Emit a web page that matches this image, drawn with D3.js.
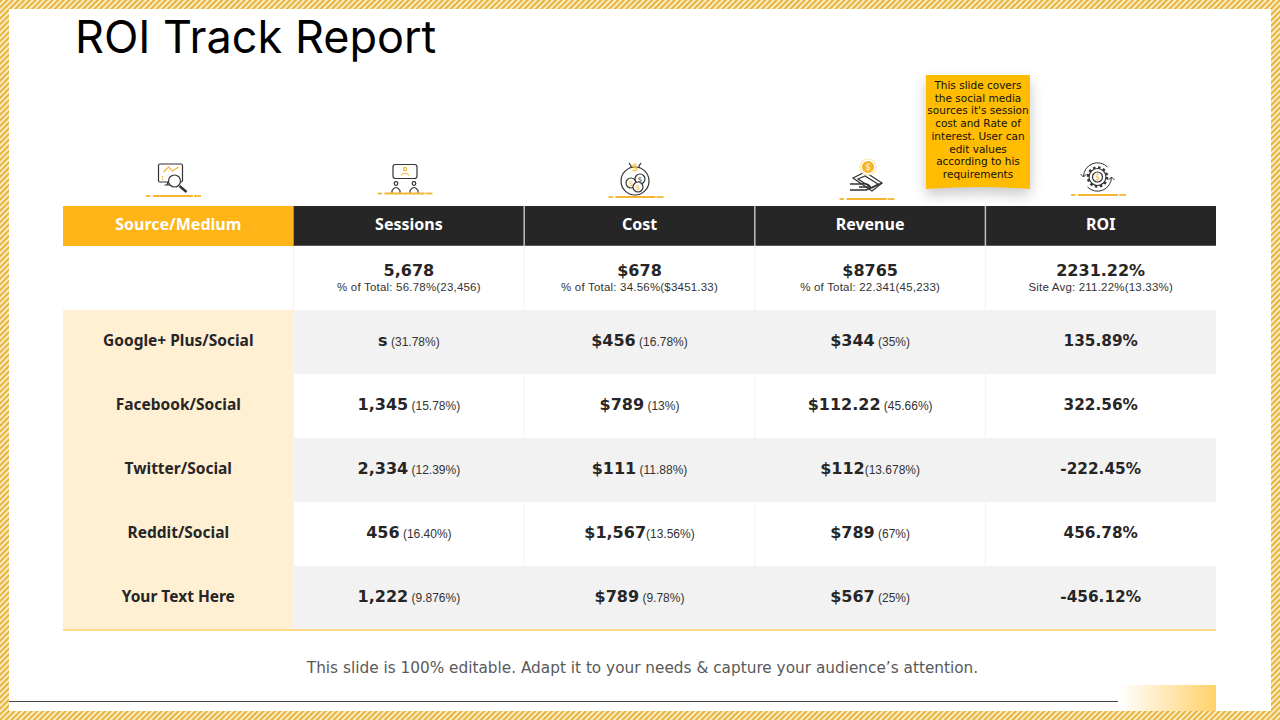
<!DOCTYPE html>
<html>
<head>
<meta charset="utf-8">
<title>ROI Track Report</title>
<script src="https://cdn.jsdelivr.net/npm/d3@7"></script>
<style>
  html, body { margin: 0; padding: 0; background: #fff; }
  svg { display: block; }
  svg text { white-space: pre; }
</style>
</head>
<body>
<div id="view"></div>
<script>
var columns = ['Source/Medium', 'Sessions', 'Cost', 'Revenue', 'ROI'];
var rows = ['summary', 'Google+ Plus/Social', 'Facebook/Social', 'Twitter/Social', 'Reddit/Social', 'Your Text Here'];

var summary_values = ['5,678', '$678', '$8765', '2231.22%'];
var summary_notes = ['% of Total: 56.78%(23,456)', '% of Total: 34.56%($3451.33)', '% of Total: 22.341(45,233)', 'Site Avg: 211.22%(13.33%)'];

var sessions = ['s', '1,345', '2,334', '456', '1,222'];
var sessions_pct = [' (31.78%)', ' (15.78%)', ' (12.39%)', ' (16.40%)', ' (9.876%)'];
var cost = ['$456', '$789', '$111', '$1,567', '$789'];
var cost_pct = [' (16.78%)', ' (13%)', ' (11.88%)', '(13.56%)', ' (9.78%)'];
var revenue = ['$344', '$112.22', '$112', '$789', '$567'];
var revenue_pct = [' (35%)', ' (45.66%)', '(13.678%)', ' (67%)', ' (25%)'];
var roi = ['135.89%', '322.56%', '-222.45%', '456.78%', '-456.12%'];

var note_lines = ['This slide covers', 'the social media', "sources it's session", 'cost and Rate of', 'interest. User can', 'edit values', 'according to his', 'requirements'];

var WIDE = "'DejaVu Sans', Verdana, sans-serif";
var HEAD = "'Noto Sans', 'Open Sans', sans-serif";
var SMALL = "'Liberation Sans', Arial, sans-serif";
var YELLOW = '#FFB417';
var INK = '#262626';

var svg = d3.select('#view').append('svg').attr('width', 1280).attr('height', 720);
var defs = svg.append('defs');

// hatched border
var hatch = defs.append('pattern').attr('id', 'hatch').attr('width', 4).attr('height', 4)
  .attr('patternUnits', 'userSpaceOnUse').attr('patternTransform', 'rotate(-45)');
hatch.append('rect').attr('width', 4).attr('height', 4).attr('fill', '#FFF8E6');
hatch.append('rect').attr('width', 4).attr('height', 2.4).attr('fill', '#E8B53C');

var fade = defs.append('linearGradient').attr('id', 'fade');
fade.append('stop').attr('offset', '0%').attr('stop-color', '#FFD169').attr('stop-opacity', 0);
fade.append('stop').attr('offset', '100%').attr('stop-color', '#FFD169');

var blur = defs.append('filter').attr('id', 'shadow').attr('x', '-30%').attr('y', '-30%').attr('width', '160%').attr('height', '160%');
blur.append('feGaussianBlur').attr('stdDeviation', 7);

svg.append('path').attr('fill', 'url(#hatch)').attr('fill-rule', 'evenodd')
  .attr('d', 'M0,0H1280V720H0Z M9,9V711H1271V9Z');

svg.append('text').attr('x', 75).attr('y', 53).attr('font-family', "'Inter', 'Noto Sans', sans-serif")
  .attr('font-size', 45).attr('fill', '#000').text('ROI Track Report');

// scales for the table
var x = d3.scaleBand().domain(columns).range([63, 1216]);
var y = d3.scaleBand().domain(rows).range([246, 630]);
var cx = function(c) { return x(c) + x.bandwidth() / 2; };
var data_cols = columns.slice(1);

// header
svg.selectAll('rect.head').data(columns).enter().append('rect').classed('head', true)
  .attr('x', function(c) { return x(c); }).attr('y', 206)
  .attr('width', x.bandwidth()).attr('height', 40)
  .attr('fill', function(c, i) { return i == 0 ? YELLOW : INK; });
svg.append('line').attr('x1', x(data_cols[0])).attr('x2', 1216).attr('y1', 245.5).attr('y2', 245.5).attr('stroke', '#595959');
svg.selectAll('line.headsep').data(data_cols.slice(1)).enter().append('line').classed('headsep', true)
  .attr('x1', function(c) { return x(c); }).attr('x2', function(c) { return x(c); })
  .attr('y1', 206).attr('y2', 246).attr('stroke', '#BFBFBF').attr('stroke-width', 1.5);
svg.selectAll('text.head').data(columns).enter().append('text').classed('head', true)
  .attr('x', cx).attr('y', 230).attr('text-anchor', 'middle')
  .attr('font-family', HEAD).attr('font-weight', 700).attr('font-size', 16).attr('fill', '#fff')
  .text(function(c) { return c; });

// body backgrounds
var body_rows = rows.slice(1);
svg.selectAll('rect.label').data(body_rows).enter().append('rect').classed('label', true)
  .attr('x', x(columns[0])).attr('y', y).attr('width', x.bandwidth()).attr('height', y.bandwidth())
  .attr('fill', '#FFF0D4');
svg.selectAll('rect.band').data(body_rows).enter().append('rect').classed('band', true)
  .attr('x', x(data_cols[0])).attr('y', y)
  .attr('width', x.bandwidth() * data_cols.length).attr('height', y.bandwidth())
  .attr('fill', function(r, i) { return i % 2 == 0 ? '#F2F2F2' : '#fff'; });

// faint cell separators on the white rows
var white_rows = ['summary', body_rows[1], body_rows[3]];
white_rows.forEach(function(r) {
  svg.selectAll(null).data(data_cols).enter().append('line')
    .attr('x1', function(c) { return x(c); }).attr('x2', function(c) { return x(c); })
    .attr('y1', y(r)).attr('y2', y(r) + y.bandwidth()).attr('stroke', '#F2F2F2');
});

svg.append('line').attr('x1', 63).attr('x2', 1216).attr('y1', 630).attr('y2', 630)
  .attr('stroke', '#FFD98A').attr('stroke-width', 2);

// row labels
svg.selectAll('text.label').data(body_rows).enter().append('text').classed('label', true)
  .attr('x', cx(columns[0])).attr('y', function(r) { return y(r) + 36; }).attr('text-anchor', 'middle')
  .attr('font-family', HEAD).attr('font-weight', 700).attr('font-size', 15.5).attr('fill', INK)
  .text(function(r) { return r; });

// summary row
svg.selectAll('text.sumval').data(summary_values).enter().append('text').classed('sumval', true)
  .attr('x', function(d, i) { return cx(data_cols[i]); }).attr('y', 276).attr('text-anchor', 'middle')
  .attr('font-family', WIDE).attr('font-weight', 700).attr('font-size', 16).attr('fill', INK)
  .text(function(d) { return d; });
svg.selectAll('text.sumnote').data(summary_notes).enter().append('text').classed('sumnote', true)
  .attr('x', function(d, i) { return cx(data_cols[i]); }).attr('y', 291).attr('text-anchor', 'middle')
  .attr('font-family', SMALL).attr('font-size', 11.5).attr('letter-spacing', 0.2).attr('fill', '#333')
  .text(function(d) { return d; });

// body cells
var col_values = [sessions, cost, revenue, roi];
var col_notes = [sessions_pct, cost_pct, revenue_pct, null];
col_values.forEach(function(vals, k) {
  var cell = svg.selectAll(null).data(vals).enter().append('text')
    .attr('x', cx(data_cols[k]))
    .attr('y', function(d, i) { return y(body_rows[i]) + 36; })
    .attr('text-anchor', 'middle');
  cell.append('tspan').attr('font-family', WIDE).attr('font-weight', 700)
    .attr('font-size', col_notes[k] ? 16 : 15.3).attr('fill', INK)
    .text(function(d) { return d; });
  if (col_notes[k]) {
    cell.append('tspan').attr('font-family', SMALL)
      .attr('font-size', 12).attr('fill', '#333')
      .text(function(d, i) { return col_notes[k][i]; });
  }
});

svg.append('text').attr('x', 642.5).attr('y', 673).attr('text-anchor', 'middle')
  .attr('font-family', WIDE).attr('font-size', 15.3).attr('fill', '#595959')
  .text('This slide is 100% editable. Adapt it to your needs & capture your audience\u2019s attention.');

svg.append('line').attr('x1', 9).attr('x2', 1118).attr('y1', 701.5).attr('y2', 701.5).attr('stroke', '#444');
svg.append('rect').attr('x', 1120).attr('y', 685).attr('width', 96).attr('height', 26).attr('fill', 'url(#fade)');

// sticky note
var note_path = 'M926,75H1030V189Q978,185 926,189Z';
svg.append('path').attr('d', note_path).attr('transform', 'translate(0,6)').attr('fill', '#000')
  .attr('opacity', 0.22).attr('filter', 'url(#shadow)');
svg.append('path').attr('d', note_path).attr('fill', '#FFBC00');
svg.selectAll('text.note').data(note_lines).enter().append('text').classed('note', true)
  .attr('x', 978).attr('y', function(d, i) { return 89 + i * 12.7; }).attr('text-anchor', 'middle')
  .attr('font-family', WIDE).attr('font-size', 10.5).attr('fill', '#111')
  .text(function(d) { return d; });

// icons above the header
var DARK = '#333', GOLD = '#F5B52E';
function icon(cxi, base) {
  var g = svg.append('g').attr('transform', 'translate(' + cxi + ',' + base + ')')
    .attr('fill', 'none').attr('stroke', DARK).attr('stroke-width', 1.2);
  [[-27.5, -23], [-20.5, 19.5], [20.5, 27.5]].forEach(function(s) {
    g.append('line').attr('x1', s[0]).attr('x2', s[1]).attr('y1', 0).attr('y2', 0)
      .attr('stroke', GOLD).attr('stroke-width', 1.8);
  });
  return g;
}

var a = icon(173.5, 196);
a.append('rect').attr('x', -15).attr('y', -32).attr('width', 24).attr('height', 18).attr('rx', 1.5);
a.append('path').attr('d', 'M-10,-24L-5,-29L-1,-25L5,-29').attr('stroke', GOLD);
a.append('path').attr('d', 'M-11,-20V-16').attr('stroke', GOLD).attr('stroke-dasharray', '1.5 1');
a.append('path').attr('d', 'M-6,-14V-11M-9,-11H-1');
a.append('circle').attr('cx', 1).attr('cy', -15).attr('r', 6).attr('fill', '#fff');
a.append('path').attr('d', 'M6,-10L13,-4').attr('stroke-width', 2.4);

var b = icon(405, 193.5);
b.append('rect').attr('x', -12).attr('y', -29).attr('width', 24).attr('height', 14).attr('rx', 2.5);
b.append('circle').attr('cx', 0).attr('cy', -24.5).attr('r', 1.6).attr('stroke', GOLD);
b.append('path').attr('d', 'M-4,-18Q0,-23 4,-18').attr('stroke', GOLD);
[-9, 9].forEach(function(s) {
  b.append('circle').attr('cx', s).attr('cy', -10).attr('r', 1.8);
  b.append('path').attr('d', 'M' + (s - 4) + ',-1V-3Q' + s + ',-9 ' + (s + 4) + ',-3V-1');
});

var c = icon(636, 197);
c.append('circle').attr('cx', -1).attr('cy', -16).attr('r', 14);
c.append('path').attr('d', 'M-7,-34L-5,-31V-29M5,-34L3,-31V-29');
c.append('text').attr('x', -1).attr('y', -26).attr('text-anchor', 'middle').attr('font-size', 11).attr('stroke', 'none').attr('fill', GOLD).attr('font-family', WIDE).text('$');
c.append('circle').attr('cx', 4).attr('cy', -18).attr('r', 5).attr('fill', '#fff');
c.append('circle').attr('cx', -5).attr('cy', -14).attr('r', 5).attr('fill', '#fff');
c.append('circle').attr('cx', 2).attr('cy', -10).attr('r', 5).attr('fill', '#fff');
[[4, -15.5, DARK], [-5, -11.5, GOLD], [2, -7.5, GOLD]].forEach(function(s) {
  c.append('text').attr('x', s[0]).attr('y', s[1]).attr('text-anchor', 'middle').attr('font-size', 7)
    .attr('stroke', 'none').attr('fill', s[2]).attr('font-family', WIDE).text('$');
});

var r_ = icon(867, 199);
r_.append('path').attr('d', 'M-14,-21L-2,-27L15,-16L5,-8Z').attr('fill', '#fff');
r_.append('path').attr('d', 'M-9,-20L-2,-23L11,-15L5,-11Z');
r_.append('circle').attr('cx', 1).attr('cy', -32).attr('r', 8).attr('stroke', '#FBE3A8').attr('fill', '#fff');
r_.append('circle').attr('cx', 1).attr('cy', -32).attr('r', 5.5).attr('fill', GOLD).attr('stroke', GOLD);
r_.append('text').attr('x', 1).attr('y', -29).attr('text-anchor', 'middle').attr('font-size', 8).attr('stroke', 'none').attr('fill', '#fff').attr('font-family', WIDE).text('$');
r_.append('path').attr('d', 'M-17,-15H-6Q2,-16 3,-12H-8M-17,-9H-1L15,-16').attr('stroke-width', 1.4);

var e = icon(1098.5, 195);
e.append('circle').attr('cx', -1).attr('cy', -18).attr('r', 9.5).attr('stroke-width', 2.5).attr('stroke-dasharray', '2.5 2.5');
e.append('circle').attr('cx', -1).attr('cy', -18).attr('r', 8.5).attr('fill', '#fff');
e.append('circle').attr('cx', -1).attr('cy', -18).attr('r', 5);
e.append('text').attr('x', -1).attr('y', -15).attr('text-anchor', 'middle').attr('font-size', 8).attr('stroke', 'none').attr('fill', GOLD).attr('font-family', WIDE).text('$');
e.append('path').attr('d', 'M-15,-18A14,14 0 0 1 9,-28M13,-18A14,14 0 0 1 -11,-8').attr('stroke-width', 1);
e.append('path').attr('d', 'M-18,-21L-15,-18L-12,-21M10,-15L13,-18L16,-15').attr('stroke-width', 1);
</script>
</body>
</html>
